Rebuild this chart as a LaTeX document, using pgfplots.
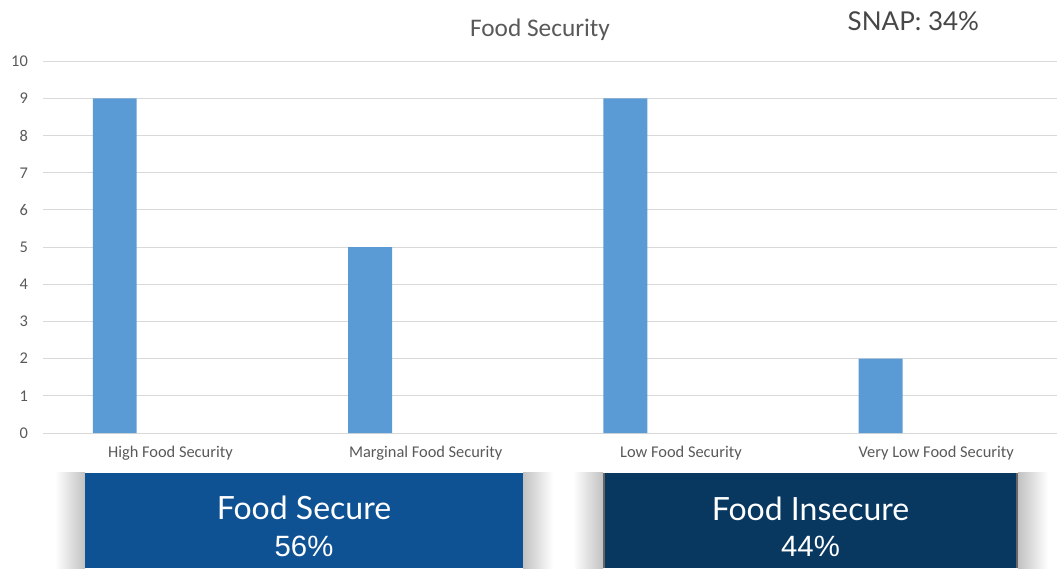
\documentclass[border=0pt]{standalone}
\usepackage{pgfplots}
\pgfplotsset{compat=1.18}
\usepackage{fontspec}
\setmainfont{Carlito}
\newfontfamily\lato{Lato}
\newfontfamily\arialf{Liberation Sans}
\definecolor{barblue}{HTML}{5B9BD5}
\definecolor{gridc}{HTML}{D9D9D9}
\definecolor{txt}{HTML}{595959}
\definecolor{boxA}{HTML}{0F5294}
\definecolor{boxB}{HTML}{083760}
\begin{document}
\begin{tikzpicture}[x=0.75pt,y=0.75pt]
\path[use as bounding box] (0,0) rectangle (1057,568);
% shadows
\shade[left color=white,right color=black!24] (55,0) rectangle (85,95);
\shade[left color=black!24,right color=white] (523,0) rectangle (553,95);
\shade[left color=white,right color=black!24] (573,0) rectangle (603,95);
\shade[left color=black!24,right color=white] (1018,0) rectangle (1048,95);
\fill[boxA] (85,0) rectangle (523,95);
\fill[boxB] (603,0) rectangle (1018,95);
\draw[black!60,line width=1.2pt] (603.8,0) -- (603.8,95) (1017.2,0) -- (1017.2,95);
\begin{axis}[
  at={(32.1pt,101.25pt)}, anchor=south west, scale only axis,
  width=760.65pt, height=278.8pt,
  xmin=-0.5, xmax=3.473, ymin=0, ymax=10,
  ytick={0,1,...,10},
  xtick={0,1,2,3},
  xticklabels={High Food Security, Marginal Food Security, Low Food Security, Very Low Food Security},
  ymajorgrids, grid style={gridc, line width=0.75pt},
  axis line style={draw=none},
  major tick style={draw=none},
  tick label style={font=\fontsize{12.3}{14}\selectfont, text=txt},
  /pgf/number format/assume math mode=true,
  yticklabel style={anchor=east, inner sep=0pt, xshift=-11pt},
  xticklabel style={anchor=north, inner sep=0pt, yshift=-10pt},
]
\addplot[ybar, fill=barblue, draw=none, bar width=0.172, bar shift=-0.218]
  coordinates {(0,9) (1,5) (2,9) (3,2)};
\end{axis}
\node[anchor=base, text=txt, font=\fontsize{19}{22}\selectfont] at (540,531) {Food Security};
\node[anchor=base west, text=black!72, font=\lato\fontsize{19.5}{24}\selectfont] at (843,537) {SNAP: 34\%};
\node[anchor=base, text=white, font=\lato\fontsize{24}{28}\selectfont] at (304,49) {Food Secure};
\node[anchor=base, text=white, font=\arialf\fontsize{22}{26}\selectfont] at (304,12) {56\%};
\node[anchor=base, text=white, font=\lato\fontsize{24}{28}\selectfont] at (810.5,48) {Food Insecure};
\node[anchor=base, text=white, font=\arialf\fontsize{22}{26}\selectfont] at (810.5,12) {44\%};
\end{tikzpicture}
\end{document}
